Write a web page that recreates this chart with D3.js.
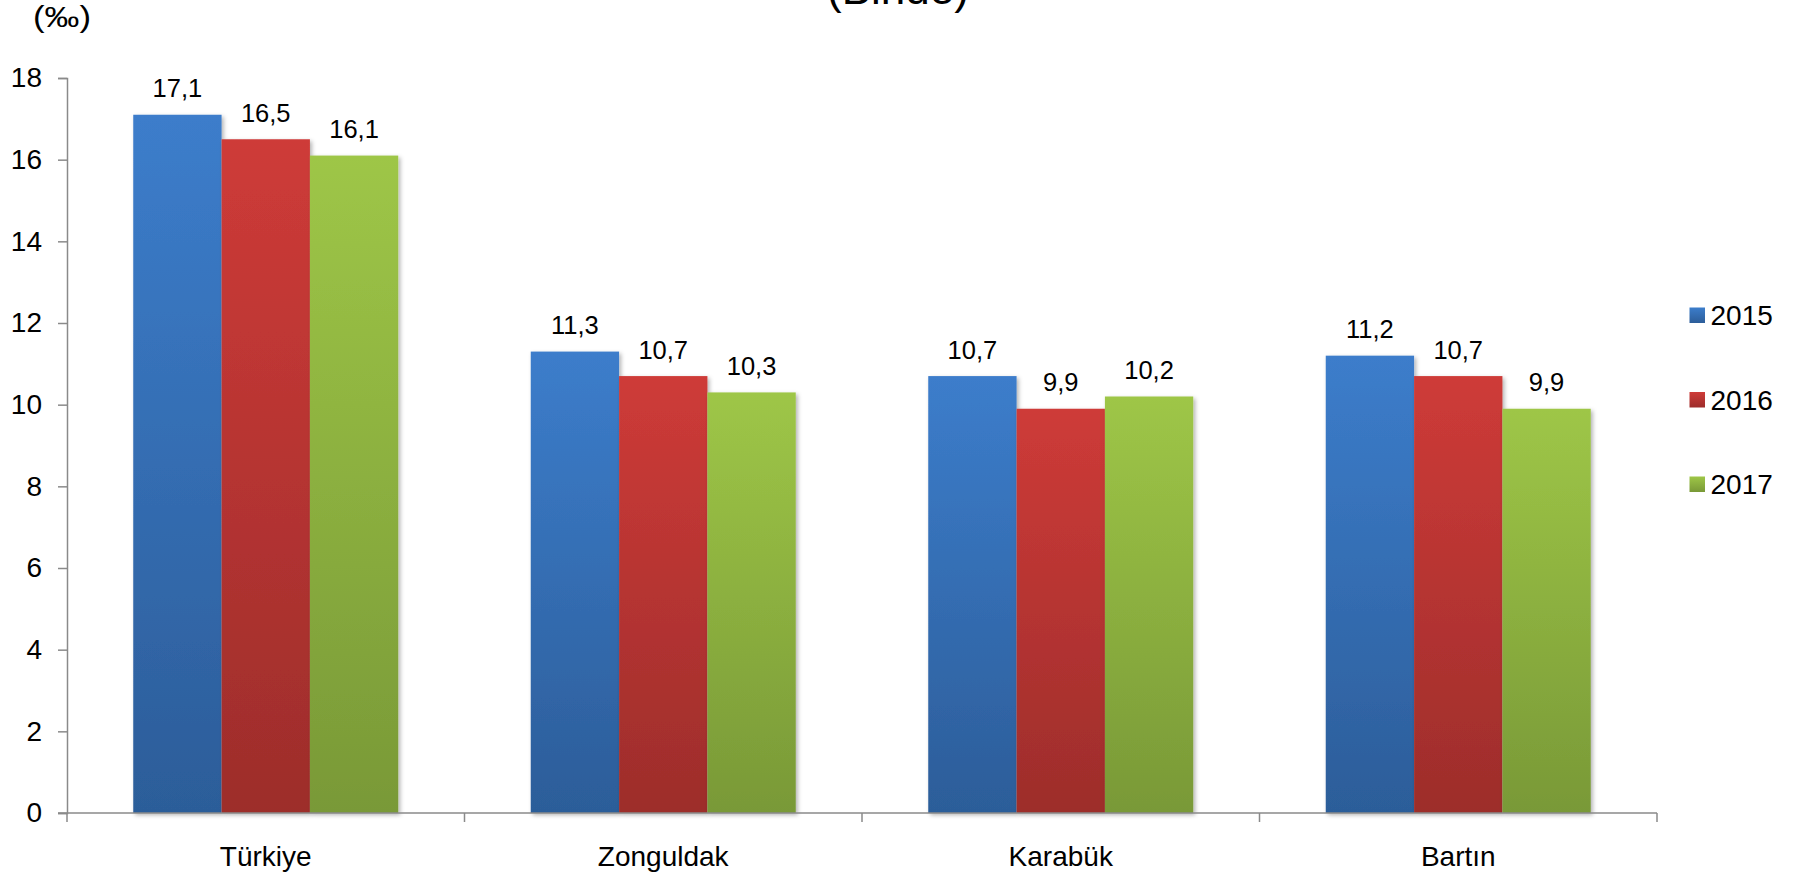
<!DOCTYPE html>
<html>
<head>
<meta charset="utf-8">
<script src="https://cdn.jsdelivr.net/npm/d3@7"></script>
<style>
  html, body { margin: 0; padding: 0; background: #fff; }
  svg { display: block; font-family: "Liberation Sans", Arial, sans-serif; }
</style>
</head>
<body>
<svg id="chart" width="1796" height="875"></svg>
<script>
const categories = ["Türkiye", "Zonguldak", "Karabük", "Bartın"];
const seriesNames = ["2015", "2016", "2017"];
const values2015 = [17.1, 11.3, 10.7, 11.2];
const values2016 = [16.5, 10.7, 9.9, 10.7];
const values2017 = [16.1, 10.3, 10.2, 9.9];
const labels2015 = ["17,1", "11,3", "10,7", "11,2"];
const labels2016 = ["16,5", "10,7", "9,9", "10,7"];
const labels2017 = ["16,1", "10,3", "10,2", "9,9"];
const yTicks = [0, 2, 4, 6, 8, 10, 12, 14, 16, 18];
const titleText = "(Binde)";
const unitText = "(‰)";

const series = [
  { name: seriesNames[0], values: values2015, labels: labels2015, top: "#3c7dcb", bottom: "#2c5d99" },
  { name: seriesNames[1], values: values2016, labels: labels2016, top: "#ce3b38", bottom: "#9d2d2b" },
  { name: seriesNames[2], values: values2017, labels: labels2017, top: "#9ec647", bottom: "#799937" }
];

const svg = d3.select("#chart");
const margin = { left: 67, right: 1657, top: 78, bottom: 813 };

const x0 = d3.scaleBand().domain(categories).range([margin.left, margin.right]).paddingInner(0).paddingOuter(0);
const bw = x0.bandwidth();
const barW = bw / 4.5;
const x1 = d3.scaleBand().domain(seriesNames).range([0, barW * 3]).padding(0);
const y = d3.scaleLinear().domain([0, 18]).range([margin.bottom, margin.top]);

const defs = svg.append("defs");
series.forEach((s, i) => {
  const g = defs.append("linearGradient").attr("id", "grad" + i)
    .attr("x1", 0).attr("y1", 0).attr("x2", 0).attr("y2", 1);
  g.append("stop").attr("offset", "0%").attr("stop-color", s.top);
  g.append("stop").attr("offset", "100%").attr("stop-color", s.bottom);
});
const f = defs.append("filter").attr("id", "shadow").attr("x", "-10%").attr("y", "-10%").attr("width", "130%").attr("height", "130%");
f.append("feDropShadow").attr("dx", 2).attr("dy", 2).attr("stdDeviation", 2)
  .attr("flood-color", "#000").attr("flood-opacity", 0.3);

// Title (cut off at top)
svg.append("text").attr("x", 898).attr("y", 4).attr("text-anchor", "middle")
  .attr("font-size", 44).attr("fill", "#000").text(titleText);

// Unit label
svg.append("text").attr("x", 33).attr("y", 27).attr("font-size", 30)
  .attr("textLength", 58).attr("lengthAdjust", "spacingAndGlyphs")
  .attr("fill", "#000").text(unitText);

// Bars
const groups = svg.append("g").selectAll("g").data(categories).join("g")
  .attr("transform", d => `translate(${x0(d) + (bw - barW * 3) / 2},0)`);

series.forEach((s, si) => {
  groups.append("rect")
    .attr("x", x1(s.name))
    .attr("y", (d, i) => y(s.values[i]))
    .attr("width", x1.bandwidth())
    .attr("height", (d, i) => y(0) - y(s.values[i]))
    .attr("fill", `url(#grad${si})`)
    .attr("filter", "url(#shadow)");
});
series.forEach((s, si) => {
  groups.append("text")
    .attr("x", x1(s.name) + x1.bandwidth() / 2)
    .attr("y", (d, i) => y(s.values[i]) - 17.5)
    .attr("text-anchor", "middle")
    .attr("font-size", 25.5)
    .attr("fill", "#000")
    .text((d, i) => s.labels[i]);
});

// Y axis
const yAxis = d3.axisLeft(y).tickValues(yTicks).tickSize(9).tickPadding(16).tickFormat(d3.format("d"));
const yg = svg.append("g").attr("transform", `translate(${margin.left},0)`).call(yAxis);
yg.select(".domain").attr("stroke", "#8a8a8a").attr("stroke-width", 1.5);
yg.selectAll(".tick line").attr("stroke", "#8a8a8a").attr("stroke-width", 1.5);
yg.selectAll(".tick text").attr("font-size", 28).attr("fill", "#000")
  .attr("font-family", "'Liberation Sans', Arial, sans-serif");

// X axis
const xg = svg.append("g").attr("transform", `translate(0,${margin.bottom})`);
xg.append("line").attr("x1", margin.left - 9).attr("x2", margin.right).attr("y1", 0).attr("y2", 0)
  .attr("stroke", "#8a8a8a").attr("stroke-width", 1.5);
const bounds = categories.map(c => x0(c)).concat([x0(categories[categories.length - 1]) + bw]);
xg.selectAll("line.tk").data(bounds).join("line").attr("class", "tk")
  .attr("x1", d => d).attr("x2", d => d).attr("y1", 0).attr("y2", 9)
  .attr("stroke", "#8a8a8a").attr("stroke-width", 1.5);
xg.selectAll("text").data(categories).join("text")
  .attr("x", d => x0(d) + bw / 2).attr("y", 53)
  .attr("text-anchor", "middle").attr("font-size", 28).attr("fill", "#000")
  .text(d => d);

// Legend
const legend = svg.append("g");
const legendY = [315, 399.5, 484];
series.forEach((s, i) => {
  legend.append("rect").attr("x", 1689.5).attr("y", legendY[i] - 7.5).attr("width", 15.5).attr("height", 15.5)
    .attr("fill", `url(#grad${i})`);
  legend.append("text").attr("x", 1710.5).attr("y", legendY[i] + 10).attr("font-size", 28).attr("fill", "#000")
    .text(s.name);
});
</script>
</body>
</html>
